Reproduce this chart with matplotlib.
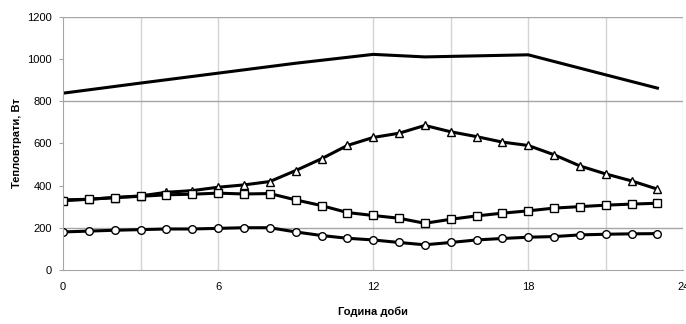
import numpy as np
import matplotlib
matplotlib.use('Agg')
import matplotlib.pyplot as plt

plt.rcParams['font.family'] = ['Liberation Sans', 'DejaVu Sans']

# hours of day
hours = list(range(24))

# top curve (no markers), read at visible break points
top_hours = [0, 3, 6, 9, 12, 14, 16, 18, 21, 23]
top_vals = [838, 886, 933, 980, 1022, 1010, 1015, 1020, 925, 862]

tri_vals = [332, 335, 343, 351, 368, 376, 392, 403, 419, 471, 527, 590,
            628, 648, 685, 655, 632, 606, 590, 546, 493, 455, 422, 383]
sq_vals = [328, 335, 343, 349, 356, 359, 364, 360, 362, 332, 305, 272,
           258, 245, 221, 240, 256, 269, 280, 293, 300, 307, 312, 316]
circ_vals = [180, 184, 188, 191, 194, 194, 197, 200, 200, 180, 163, 150,
             142, 130, 119, 130, 142, 149, 155, 158, 166, 169, 171, 172]

x_ticks = [0, 6, 12, 18, 24]
y_ticks = [0, 200, 400, 600, 800, 1000, 1200]
v_grid = [3, 6, 12, 15, 18, 21, 24]
h_grid = [200, 800, 1200]

fig = plt.figure(figsize=(6.86, 3.24), dpi=100)
ax = fig.add_axes([0.092, 0.167, 0.904, 0.781])

for g in v_grid:
    ax.axvline(g, color='#d4d4d4', lw=1, zorder=0)
for g in h_grid:
    ax.axhline(g, color='#a6a6a6', lw=1, zorder=0)

ax.plot(top_hours, top_vals, color='black', lw=2.2)
ax.plot(hours, tri_vals, color='black', lw=2.2, marker='^', ms=5.5,
        mfc='white', mec='black', mew=1)
ax.plot(hours, sq_vals, color='black', lw=2.2, marker='s', ms=5.5,
        mfc='white', mec='black', mew=1)
ax.plot(hours, circ_vals, color='black', lw=2.2, marker='o', ms=5.5,
        mfc='white', mec='black', mew=1)

ax.set_xlim(0, 24)
ax.set_ylim(0, 1200)
ax.set_xticks(x_ticks)
ax.set_yticks(y_ticks)
ax.tick_params(axis='x', length=0, pad=9, labelsize=8)
ax.tick_params(axis='y', length=3, color='#a6a6a6', pad=5, labelsize=8)

for s in ['top', 'right']:
    ax.spines[s].set_visible(False)
ax.spines['left'].set_color('#a6a6a6')
ax.spines['bottom'].set_color('#a6a6a6')

ax.set_xlabel('Година доби', fontsize=8, fontweight='bold', labelpad=10)
ax.set_ylabel('Тепловтрати, Вт', fontsize=8, fontweight='bold', labelpad=4)

fig.savefig('out.png', dpi=100)
